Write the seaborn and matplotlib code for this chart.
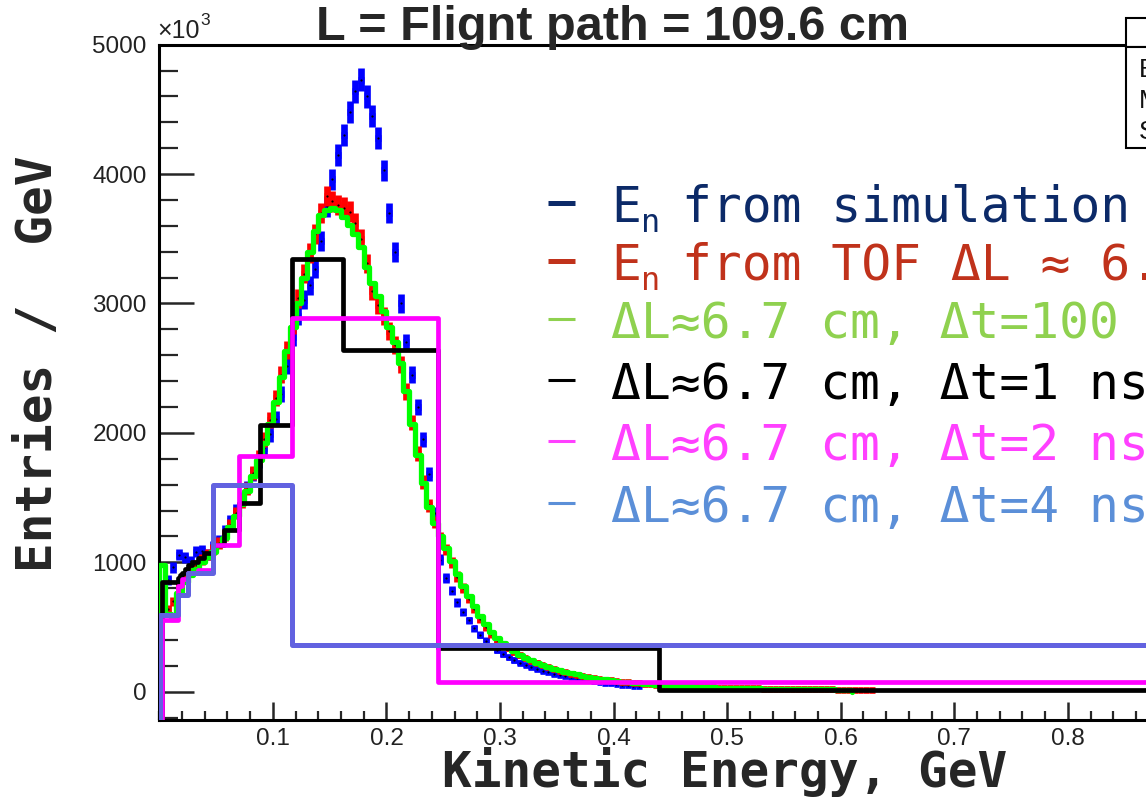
import matplotlib
matplotlib.use("Agg")
import matplotlib.pyplot as plt
import numpy as np
import seaborn as sns
from matplotlib.lines import Line2D
from matplotlib.patches import Rectangle
from matplotlib.ticker import FixedLocator, MultipleLocator

# ---------------- data ----------------
BIN_W = 0.005  # GeV, fine histograms start at 0

# E_n from simulation (blue)
sim_vals = [620, 860, 960, 1060, 1040, 1010, 1080, 1090, 1060, 1120,
            1170, 1240, 1320, 1400, 1490, 1580, 1680, 1780, 1880, 1990,
            2110, 2300, 2520, 2740, 2900, 3030, 3140, 3270, 3480, 3750,
            3960, 4150, 4300, 4480, 4640, 4730, 4600, 4450, 4280, 4030,
            3700, 3400, 3000, 2700, 2450, 2200, 1950, 1680, 1380, 1020,
            880, 780, 690, 615, 550, 490, 440, 395, 355, 320,
            292, 266, 244, 224, 206, 190, 175, 161, 149, 138,
            128, 118, 110, 102, 95, 88, 82, 76, 70, 65,
            60, 55, 50, 46, 42]

# E_n from TOF (red)
tof_vals = [700, 640, 700, 820, 880, 930, 980, 1020, 1060, 1100,
            1150, 1210, 1290, 1380, 1470, 1570, 1690, 1810, 1950, 2100,
            2270, 2450, 2640, 2830, 3040, 3230, 3390, 3540, 3700, 3830,
            3790, 3760, 3740, 3710, 3620, 3500, 3310, 3100, 2990, 2900,
            2790, 2680, 2530, 2320, 2080, 1840, 1620, 1440, 1310, 1190,
            1100, 1000, 890, 800, 720, 640, 565, 500, 445, 400,
            365, 335, 305, 280, 258, 240, 222, 205, 190, 175,
            162, 150, 140, 130, 122, 114, 106, 99, 93, 87,
            82, 77, 72, 68, 64, 60, 57, 54, 51, 48,
            46, 44, 42, 40, 38, 36, 35, 33, 32, 31,
            30, 29, 28, 27, 26, 25, 24, 23, 23, 22,
            21, 21, 20, 19, 19, 18, 18, 17, 17, 16,
            16, 15, 15, 14, 14, 14]

# dL ~ 6.7 cm, dt = 100 ps (green)
t100_vals = [980, 600, 560, 760, 850, 900, 950, 1000, 1040, 1080,
             1130, 1190, 1270, 1360, 1450, 1550, 1670, 1790, 1920, 2070,
             2240, 2430, 2630, 2820, 3000, 3200, 3400, 3560, 3680, 3720,
             3740, 3720, 3670, 3610, 3540, 3440, 3280, 3160, 3060, 2940,
             2820, 2700, 2540, 2320, 2070, 1830, 1610, 1430, 1300, 1200,
             1110, 1010, 910, 820, 740, 660, 585, 520, 462, 415,
             375, 342, 312, 286, 263, 243, 225, 208, 193, 179,
             166, 154, 143, 133, 124, 116, 108, 101, 95, 89,
             83, 78, 73, 69, 65, 61, 57, 54, 51, 48,
             46, 44, 42, 40, 38, 36, 35, 33, 32, 31,
             30, 29, 28, 27, 26, 25, 24, 23, 23, 22,
             21, 21, 20, 19, 19, 18, 18, 17, 17, 16,
             16, 15]

# coarse TOF-binned histograms: bin edges (GeV) and contents
ns1_edges = [0.002, 0.0162, 0.0179, 0.0200, 0.0226, 0.0256, 0.0292, 0.0338,
             0.0395, 0.0469, 0.0567, 0.0699, 0.0886, 0.1168, 0.1620, 0.2450,
             0.4400, 1.3760]
ns1_vals = [850, 880, 900, 920, 950, 980, 1000, 1030, 1070, 1130, 1250,
            1460, 2060, 3340, 2640, 335, 12]

ns2_edges = [0.002, 0.0162, 0.0200, 0.0256, 0.0338, 0.0469, 0.0699, 0.1168,
             0.2450, 1.3760]
ns2_vals = [550, 820, 870, 915, 940, 1130, 1820, 2890, 72]

ns4_edges = [0.001, 0.0162, 0.0256, 0.0469, 0.1168, 1.3760]
ns4_vals = [590, 745, 915, 1600, 357]

X_TICKS = [0.1, 0.2, 0.3, 0.4, 0.5, 0.6, 0.7, 0.8]
X_TICK_LABELS = ["0.1", "0.2", "0.3", "0.4", "0.5", "0.6", "0.7", "0.8"]
Y_TICKS = [0, 1000, 2000, 3000, 4000, 5000]
Y_TICK_LABELS = ["0", "1000", "2000", "3000", "4000", "5000"]

TITLE = "L = Flignt path = 109.6 cm"
XLABEL = "Kinetic Energy, GeV"
YLABEL = "Entries /  GeV"
# legend rows: (main symbol, subscript, rest of text)
LEGEND_ROWS = [("E", "n", "from simulation"),
               ("E", "n", "from TOF ΔL ≈ 6.7 cm"),
               ("", "", "ΔL≈6.7 cm, Δt=100 ps"),
               ("", "", "ΔL≈6.7 cm, Δt=1 ns"),
               ("", "", "ΔL≈6.7 cm, Δt=2 ns"),
               ("", "", "ΔL≈6.7 cm, Δt=4 ns")]
LEGEND_COLORS = ["#0c2a68", "#c0321b", "#8fd14f", "#000000", "#ff40ff", "#5b8fd8"]
STAT_LABELS = ["Entries", "Mean", "Std Dev"]

# ---------------- style ----------------
sns.set_style("white")
plt.rcParams["font.family"] = ["Liberation Sans", "DejaVu Sans"]

W, H = 1146, 798
fig = plt.figure(figsize=(W / 100, H / 100), dpi=100)
fig.patch.set_facecolor("white")


def fx(px):
    return px / W


def fy(py):
    return 1 - py / H


Y_MIN, Y_MAX = -219, 5000
ax = fig.add_axes([fx(159.3), fy(720), (1295 - 159.3) / W, (720 - 44.7) / H])
ax.set_xlim(0, 1.0)
ax.set_ylim(Y_MIN, Y_MAX)
ax.set_facecolor("white")


def fine_centers(vals):
    return np.arange(len(vals)) * BIN_W + BIN_W / 2


def step_xy(edges, vals, base):
    edges = list(edges)
    vals = list(vals)
    xs = [edges[0]] + edges + [edges[-1]]
    ys = [base] + vals + [vals[-1], base]
    return xs, ys


def stat_err(vals):
    # drawn statistical error bars (scaled sqrt of content)
    return 1.3 * np.sqrt(np.asarray(vals, dtype=float))


# blue: simulation, error-bar style
c = fine_centers(sim_vals)
ax.errorbar(c, sim_vals, xerr=BIN_W / 2, yerr=stat_err(sim_vals), fmt="none",
            ecolor="#0000ff", elinewidth=4.8, capsize=0, zorder=2)
sns.scatterplot(x=c, y=sim_vals, ax=ax, color="black", s=2.5, linewidth=0,
                zorder=2.5, legend=False)

# red: TOF, error-bar style
c = fine_centers(tof_vals)
ax.errorbar(c, tof_vals, xerr=BIN_W / 2, yerr=stat_err(tof_vals), fmt="none",
            ecolor="#ff0000", elinewidth=4.8, capsize=0, zorder=3)
sns.scatterplot(x=c, y=tof_vals, ax=ax, color="black", s=2.5, linewidth=0,
                zorder=3.5, legend=False)

# green: 100 ps, thick step line
g_edges = np.arange(len(t100_vals) + 1) * BIN_W
xs, ys = step_xy(g_edges, t100_vals, 0)
sns.lineplot(x=xs, y=ys, ax=ax, estimator=None, sort=False, drawstyle="steps-post",
             color="#00ff00", lw=3.8, zorder=4)

# coarse histograms
for edges, vals, col, lw, z in [(ns1_edges, ns1_vals, "#000000", 3.4, 5),
                                (ns2_edges, ns2_vals, "#ff00ff", 3.4, 6),
                                (ns4_edges, ns4_vals, "#6262e0", 3.6, 7)]:
    xs, ys = step_xy(edges, vals, Y_MIN)
    sns.lineplot(x=xs, y=ys, ax=ax, estimator=None, sort=False,
                 drawstyle="steps-post", color=col, lw=lw, zorder=z)

# axes styling
for s in ["left", "bottom", "top"]:
    ax.spines[s].set_visible(True)
    ax.spines[s].set_linewidth(2.2)
    ax.spines[s].set_color("black")
ax.spines["right"].set_visible(False)

ax.xaxis.set_major_locator(FixedLocator(X_TICKS))
ax.set_xticklabels(X_TICK_LABELS)
ax.xaxis.set_minor_locator(MultipleLocator(0.02))
ax.yaxis.set_major_locator(FixedLocator(Y_TICKS))
ax.set_yticklabels(Y_TICK_LABELS)
ax.yaxis.set_minor_locator(MultipleLocator(200))

ax.tick_params(axis="x", which="major", direction="in", length=13, width=1.8,
               pad=6, labelsize=17.5, labelcolor="#222222", bottom=True, top=False)
ax.tick_params(axis="x", which="minor", direction="in", length=6.5, width=1.6,
               bottom=True, top=False)
ax.tick_params(axis="y", which="major", direction="in", length=25, width=1.8,
               pad=9, labelsize=17.5, labelcolor="#222222", left=True, right=False)
ax.tick_params(axis="y", which="minor", direction="in", length=14, width=1.6,
               left=True, right=False)
ax.set_xlabel("")
ax.set_ylabel("")

# x10^3 multiplier
fig.text(fx(157), fy(38), "×10", fontsize=18, color="#222222",
         ha="left", va="baseline")
fig.text(fx(200), fy(25), "3", fontsize=12.5, color="#222222",
         ha="left", va="baseline")

# title and axis labels
fig.text(fx(612), fy(40), TITLE, ha="center", va="baseline", fontsize=35,
         fontweight="bold", family=["Liberation Sans", "DejaVu Sans"])
fig.text(fx(725), fy(787), XLABEL, ha="center", va="baseline", fontsize=35.6,
         fontweight="bold", family=["DejaVu Sans Mono"])
fig.text(fx(38), fy(364), YLABEL, ha="center", va="center", rotation=90,
         fontsize=35.6, fontweight="bold", family=["DejaVu Sans Mono"])

# legend (manual text rows)
row_base = [222, 280, 338, 399, 460, 522]
mono = ["DejaVu Sans Mono"]
for i, ((sym, sub, rest), col, yb) in enumerate(zip(LEGEND_ROWS, LEGEND_COLORS, row_base)):
    lw = 3.6 if i < 2 else 2.2
    fig.add_artist(Line2D([fx(548), fx(575)], [fy(yb - 19), fy(yb - 19)],
                          transform=fig.transFigure, color=col, lw=lw,
                          solid_capstyle="butt"))
    if sym:
        fig.text(fx(611), fy(yb), sym, ha="left", va="baseline", fontsize=35.7,
                 color=col, family=mono)
        fig.text(fx(641), fy(yb + 10), sub, ha="left", va="baseline", fontsize=23,
                 color=col, family=mono)
        fig.text(fx(682), fy(yb), rest, ha="left", va="baseline", fontsize=35.7,
                 color=col, family=mono)
    else:
        fig.text(fx(611), fy(yb), rest, ha="left", va="baseline", fontsize=35.7,
                 color=col, family=mono)

# stat box (cropped at right edge)
fig.add_artist(Rectangle((fx(1125.5), fy(47)), fx(60), (47 - 18) / H,
                         transform=fig.transFigure, facecolor="white",
                         edgecolor="black", lw=1.5, zorder=10))
fig.add_artist(Rectangle((fx(1125.5), fy(148)), fx(60), (148 - 47) / H,
                         transform=fig.transFigure, facecolor="white",
                         edgecolor="black", lw=1.5, zorder=10))
for lab, yb in zip(STAT_LABELS, [77, 108, 139]):
    fig.text(fx(1139), fy(yb), lab, ha="left", va="baseline", fontsize=19,
             color="#111111", zorder=11)

fig.savefig("out.png", dpi=100, facecolor="white")
